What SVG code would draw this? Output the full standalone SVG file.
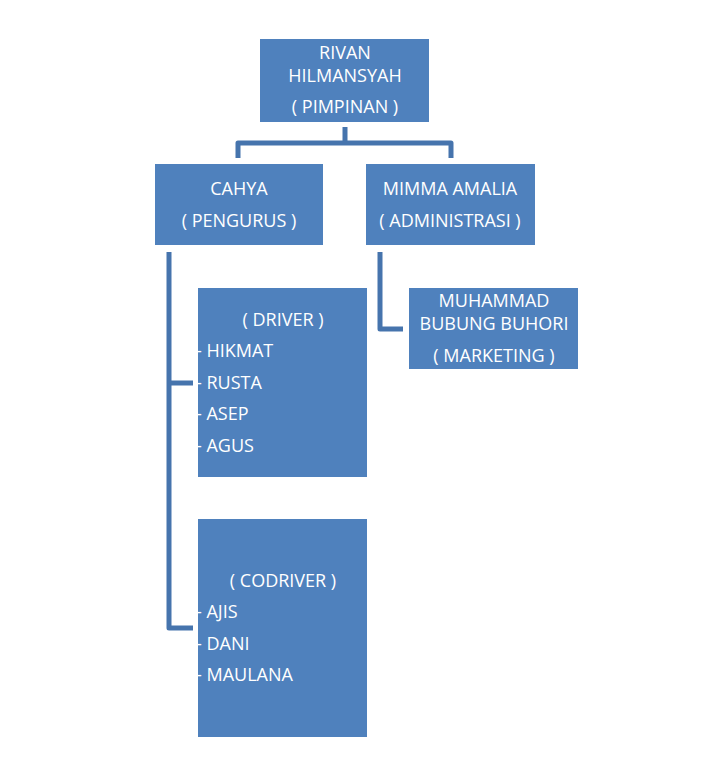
<svg xmlns="http://www.w3.org/2000/svg" width="704" height="780" viewBox="0 0 704 780">
<style>
.box{fill:#4f81bd;}
.t{font-family:"Open Sans","Liberation Sans",sans-serif;font-size:18px;fill:#ffffff;}
.c{text-anchor:middle;}
.ln{fill:none;stroke:#4674ad;stroke-width:5;stroke-linejoin:round;}
</style>
<rect width="704" height="780" fill="#ffffff"/>
<g id="connectors">
<path class="ln" d="M345,127 V143 M238,158 V143 H451 V158"/>
<path class="ln" d="M169,252 V628 H193 M169,383 H193"/>
<path class="ln" d="M380,252 V329 H403"/>
</g>
<g id="rivan">
<rect class="box" x="260" y="39" width="169" height="83"/>
<text class="t c" x="345" y="59">RIVAN</text>
<text class="t c" x="345" y="82">HILMANSYAH</text>
<text class="t c" x="345" y="113">( PIMPINAN )</text>
</g>
<g id="cahya">
<rect class="box" x="155" y="164" width="168" height="81"/>
<text class="t c" x="239" y="195">CAHYA</text>
<text class="t c" x="239" y="227">( PENGURUS )</text>
</g>
<g id="mimma">
<rect class="box" x="366" y="164" width="169" height="81"/>
<text class="t c" x="450" y="195">MIMMA AMALIA</text>
<text class="t c" x="450" y="227">( ADMINISTRASI )</text>
</g>
<g id="driver">
<rect class="box" x="198" y="288" width="169" height="189"/>
<text class="t c" x="283" y="326">( DRIVER )</text>
<text class="t" x="196" y="357">- HIKMAT</text>
<text class="t" x="196" y="389">- RUSTA</text>
<text class="t" x="196" y="420">- ASEP</text>
<text class="t" x="196" y="452">- AGUS</text>
</g>
<g id="muhammad">
<rect class="box" x="409" y="288" width="169" height="81"/>
<text class="t c" x="494" y="307">MUHAMMAD</text>
<text class="t c" x="494" y="330">BUBUNG BUHORI</text>
<text class="t c" x="494" y="362">( MARKETING )</text>
</g>
<g id="codriver">
<rect class="box" x="198" y="519" width="169" height="218"/>
<text class="t c" x="283" y="587">( CODRIVER )</text>
<text class="t" x="196" y="618">- AJIS</text>
<text class="t" x="196" y="650">- DANI</text>
<text class="t" x="196" y="681">- MAULANA</text>
</g>
</svg>
